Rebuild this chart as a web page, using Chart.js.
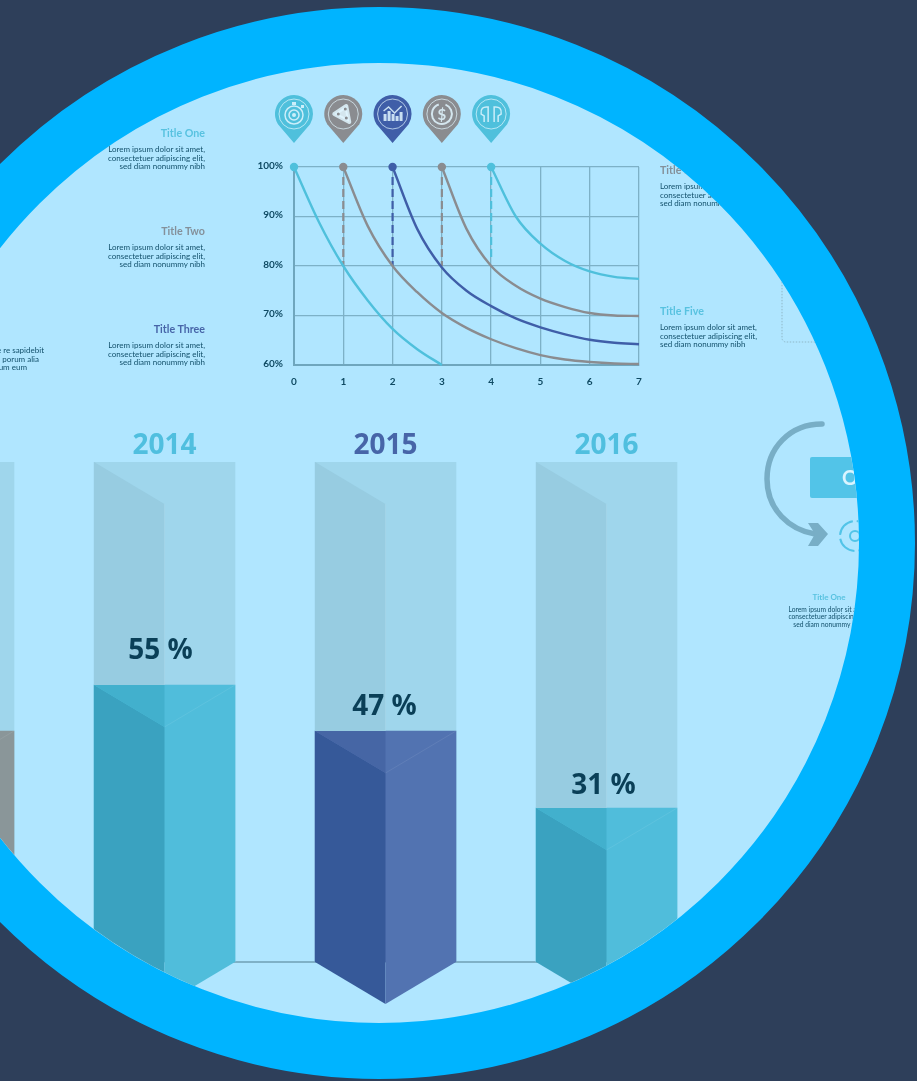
<!DOCTYPE html>
<html>
<head>
<meta charset="utf-8">
<script src="https://cdn.jsdelivr.net/npm/chart.js@4"></script>
<style>
html, body { margin: 0; width: 917px; height: 1081px; overflow: hidden; background: #2e3f5a; }
#disc { position: absolute; left: -157px; top: 7px; width: 1072px; height: 1072px; box-sizing: border-box;
  border: 56px solid #00b4ff; border-radius: 50%; overflow: hidden; background: #b0e6ff; }
#stage { position: absolute; left: 101px; top: -63px; width: 917px; height: 1081px; }
#stage canvas, #stage svg { position: absolute; }
#lineChart { left: 240px; top: 90px; filter: blur(.35px); }
#barChart { left: -167px; top: 400px; }
#stage svg { left: 0; top: 0; filter: blur(.4px); }
.note { position: absolute; width: 200px; font: 8px/8.7px Lato, sans-serif; color: #12506b; filter: blur(.25px); }
.note b { display: block; font: bold 10.7px/12px Lato, sans-serif; margin-bottom: 6px; }
.r { text-align: right; }
.c { text-align: center; }
.cyan { color: #58c2e0; }
.grey { color: #84909a; }
.blue { color: #4765a8; }
</style>
</head>
<body>
<div id="disc"><div id="stage">
  <svg width="917" height="1081">
    <rect x="782" y="270" width="130" height="72" rx="4" fill="none" stroke="#8fb8c8" stroke-width="1" stroke-dasharray="1.5 1.5"/>
    <path d="M822 424 C 790 424 767 448 767 479 C 767 510 790 530 815 534" fill="none" stroke="#78aec6" stroke-width="5.5" stroke-linecap="round"/>
    <path d="M808 523 L818 523 L828 534 L818 546 L808 546 L815 534 Z" fill="#78aec6"/>
    <rect x="810" y="457" width="70" height="41" rx="2" fill="#52c4e8"/>
    <circle cx="855" cy="536" r="15" fill="none" stroke="#52c4e8" stroke-width="2" stroke-dasharray="20 4"/>
    <circle cx="855" cy="536" r="5" fill="none" stroke="#52c4e8" stroke-width="2"/>
    <text x="842" y="485" font-family="Lato, sans-serif" font-weight="bold" font-size="20" fill="#d9f4ff">O</text>
  </svg>
  <canvas id="lineChart" width="420" height="300"></canvas>
  <canvas id="barChart" width="884" height="620"></canvas>
  <div class="note r" style="left:5px;top:127px"><b class="cyan">Title One</b>Lorem ipsum dolor sit amet,<br>consectetuer adipiscing elit,<br>sed diam nonummy nibh</div>
  <div class="note r" style="left:5px;top:225px"><b class="grey">Title Two</b>Lorem ipsum dolor sit amet,<br>consectetuer adipiscing elit,<br>sed diam nonummy nibh</div>
  <div class="note r" style="left:5px;top:323px"><b class="blue">Title Three</b>Lorem ipsum dolor sit amet,<br>consectetuer adipiscing elit,<br>sed diam nonummy nibh</div>
  <div class="note" style="left:660px;top:164px"><b class="grey">Title Four</b>Lorem ipsum dolor sit amet,<br>consectetuer adipiscing elit,<br>sed diam nonummy nibh</div>
  <div class="note" style="left:660px;top:305px"><b class="cyan">Title Five</b>Lorem ipsum dolor sit amet,<br>consectetuer adipiscing elit,<br>sed diam nonummy nibh</div>
  <div class="note r" style="left:-156px;top:346px">Nam libero tempore re sapidebit<br><span style="margin-right:5px">quibus aut porum alia</span><br><span style="margin-right:17px">harum eum</span></div>
  <div class="note c" style="left:729px;top:591px;line-height:7.3px"><b class="cyan" style="font-size:8px;margin-bottom:3px">Title One</b><span style="font-size:6.7px">Lorem ipsum dolor sit amet,<br>consectetuer adipiscing elit,<br>sed diam nonummy nibh</span></div>
</div></div>

<script>
const steps = [0, 0.5, 1, 1.5, 2, 2.5, 3, 3.5, 4, 4.5, 5, 5.5, 6, 6.5, 7];
const curveOne = [100, 89, 80, 73, 67.3, 63.2, 60, null, null, null, null, null, null, null, null];
const curveTwo = [null, null, 100, 88, 80, 74.7, 70.5, 67.5, 65.2, 63.4, 62, 61.1, 60.6, 60.3, 60.2];
const curveThree = [null, null, null, null, 100, 87.5, 79.7, 75, 71.9, 69.4, 67.6, 66.2, 65.1, 64.5, 64.2];
const curveFour = [null, null, null, null, null, null, 100, 87.5, 80, 76, 73.4, 71.7, 70.5, 70, 69.9];
const curveFive = [null, null, null, null, null, null, null, null, 100, 90, 84.5, 81, 78.9, 77.8, 77.4];
const dropSteps = [1, 2, 3, 4];
const dropLevels = [80, 80, 80, 81];

const years = ['2013', '2014', '2015', '2016'];
const fillLevels = [46.2, 55.4, 46.2, 30.8];
const trackLevels = [100, 100, 100, 100];
const percentLabels = ['', '55 %', '47 %', '31 %'];

const CYAN = '#4fc0dc', GREY = '#8a8c90', NAVY = '#3f5ea8';

const pinIcon = (ctx, i, color) => {
    ctx.strokeStyle = ctx.fillStyle = 'rgba(225,246,255,.85)';
    ctx.lineWidth = 1.5;
    if (i === 0) {
        ctx.fillRect(-2, -12, 4, 3);
        ctx.fillRect(7, -9, 3, 3);
        [9, 5].forEach(r => { ctx.beginPath(); ctx.arc(0, 1, r, 0, 7); ctx.stroke(); });
        ctx.beginPath(); ctx.arc(0, 1, 2, 0, 7); ctx.fill();
    } else if (i === 1) {
        ctx.lineJoin = 'round';
        ctx.lineWidth = 4;
        ctx.beginPath(); ctx.moveTo(-9, 0); ctx.lineTo(3, -8); ctx.lineTo(6, 8); ctx.closePath();
        ctx.fill(); ctx.stroke();
        ctx.fillStyle = color;
        [[-5, 0], [2, -5], [3, 4]].forEach(p => { ctx.beginPath(); ctx.arc(p[0], p[1], 1.5, 0, 7); ctx.fill(); });
    } else if (i === 2) {
        [[-9, 7], [-5, 10], [-1, 7], [3, 5], [7, 9]].forEach(b => ctx.fillRect(b[0], 7 - b[1], 3, b[1]));
        ctx.beginPath(); ctx.moveTo(-9, -3); ctx.lineTo(-4, -7); ctx.lineTo(2, -1); ctx.lineTo(9, -8); ctx.stroke();
    } else if (i === 3) {
        ctx.lineWidth = 2;
        ctx.beginPath(); ctx.arc(0, 0, 10, -1.2, 4.4); ctx.stroke();
        ctx.font = 'bold 15px Lato'; ctx.textAlign = 'center'; ctx.textBaseline = 'middle';
        ctx.fillText('$', 0, 1);
    } else {
        [-1, 1].forEach(s => {
            ctx.beginPath();
            ctx.moveTo(s * 3, 8);
            ctx.lineTo(s * 3, -7);
            ctx.quadraticCurveTo(s * 11, -8, s * 10, 0);
            ctx.lineTo(s * 7, 2);
            ctx.lineTo(s * 7, 8);
            ctx.stroke();
        });
    }
};

const pinsPlugin = {
    id: 'pins',
    afterDraw(chart) {
        const { ctx, scales: { x } } = chart;
        [CYAN, GREY, NAVY, GREY, CYAN].forEach((color, i) => {
            ctx.save();
            ctx.translate(x.getPixelForValue(i), 24);
            ctx.fillStyle = color;
            ctx.beginPath();
            ctx.arc(0, 0, 19, Math.PI * 0.82, Math.PI * 0.18);
            ctx.lineTo(0, 29);
            ctx.closePath();
            ctx.fill();
            ctx.strokeStyle = 'rgba(225,246,255,.7)';
            ctx.lineWidth = 1;
            ctx.beginPath();
            ctx.arc(0, 0, 15, 0, 7);
            ctx.stroke();
            pinIcon(ctx, i, color);
            ctx.restore();
        });
    }
};

const toPoints = ys => steps.map((x, i) => ({ x, y: ys[i] }));
const curve = (ys, color) => ({
    data: toPoints(ys),
    borderColor: color,
    backgroundColor: color,
    borderWidth: 2.4,
    cubicInterpolationMode: 'monotone',
    pointRadius: ctx => (ctx.parsed.y === 100 ? 3 : 0),
    clip: false
});
const dropColors = [GREY, NAVY, GREY, CYAN];
const drops = dropSteps.map((x, i) => ({
    data: [{ x, y: 98 }, { x, y: dropLevels[i] }],
    borderColor: dropColors[i],
    borderWidth: 2.2,
    borderDash: [8, 4],
    pointRadius: 0
}));

new Chart(document.getElementById('lineChart'), {
    type: 'line',
    data: { datasets: [
        curve(curveOne, CYAN), curve(curveTwo, GREY), curve(curveThree, NAVY), curve(curveFour, GREY), curve(curveFive, CYAN),
        ...drops
    ] },
    plugins: [pinsPlugin],
    options: {
        responsive: false,
        animation: false,
        layout: { padding: { top: 77, right: 21 } },
        plugins: { legend: false, tooltip: false },
        scales: {
            x: {
                type: 'linear', min: 0, max: 7,
                grid: { color: '#7db1c7', lineWidth: 1.3, drawTicks: false },
                border: { color: '#6fa6bd', width: 2 },
                ticks: { stepSize: 1, padding: 11, color: '#0f4a63', font: { family: 'Lato', weight: 'bold', size: 10 } },
                afterFit: s => { s.height = 25; }
            },
            y: {
                min: 60, max: 100,
                grid: { color: '#7db1c7', lineWidth: 1.3, drawTicks: false },
                border: { color: '#6fa6bd', width: 2 },
                ticks: { stepSize: 10, padding: 11, labelOffset: -1.5, color: '#0f4a63', font: { family: 'Lato', weight: 'bold', size: 10 },
                    callback: v => v + '%' },
                afterFit: s => { s.width = 54; }
            }
        }
    }
});

const barFaces = [
    { right: '#8a9699', left: '#7c888b', topLeft: '#84908f', year: '#84909a' },
    { right: '#50bddb', left: '#3aa2c0', topLeft: '#42b0cd', year: '#50bfdf' },
    { right: '#5273b1', left: '#365999', topLeft: '#4666a5', year: '#4765a8' },
    { right: '#50bddb', left: '#3aa2c0', topLeft: '#42b0cd', year: '#50bfdf' }
];
const labelNudge = [[0, 0], [-4, -34], [-1, -24], [-3, -22]];

const poly = (ctx, color, pts) => {
    ctx.fillStyle = color;
    ctx.beginPath();
    pts.forEach(p => ctx.lineTo(p[0], p[1]));
    ctx.closePath();
    ctx.fill();
};

const prismPlugin = {
    id: 'prism',
    beforeDatasetsDraw(chart) {
        const { ctx, scales: { y } } = chart;
        const bars = chart.getDatasetMeta(0).data;
        const base = y.getPixelForValue(0);
        ctx.strokeStyle = '#6f9fb5';
        ctx.lineWidth = 1.5;
        ctx.beginPath();
        ctx.moveTo(bars[1].x, base);
        ctx.lineTo(bars[3].x, base);
        ctx.stroke();
    },
    afterDatasetsDraw(chart) {
        const { ctx } = chart;
        const fills = chart.getDatasetMeta(0).data;
        const tracks = chart.getDatasetMeta(1).data;
        fills.forEach((bar, i) => {
            const { x, y, base, width } = bar;
            const l = x - width / 2, r = x + width / 2, rise = 42;
            const top = tracks[i].y;
            const face = barFaces[i];
            poly(ctx, '#97cce1', [[l, top], [x, top + rise], [x, y], [l, y]]);
            poly(ctx, face.left, [[l, y], [x, y + rise], [x, base + rise], [l, base]]);
            poly(ctx, face.topLeft, [[l, y], [x, y], [x, y + rise]]);
            poly(ctx, face.right, [[x, base], [r, base], [x, base + rise]]);
            ctx.strokeStyle = 'rgba(255,255,255,.08)';
            ctx.lineWidth = 1;
            ctx.beginPath();
            ctx.moveTo(r, y);
            ctx.lineTo(x, y + rise);
            ctx.moveTo(x, top + rise);
            ctx.lineTo(x, y);
            ctx.stroke();
            ctx.fillStyle = '#0a3f57';
            ctx.font = 'bold 28px "Open Sans"';
            ctx.textAlign = 'center';
            ctx.textBaseline = 'middle';
            ctx.fillText(percentLabels[i], x + labelNudge[i][0], y + labelNudge[i][1]);
        });
    }
};

new Chart(document.getElementById('barChart'), {
    type: 'bar',
    data: {
        labels: years,
        datasets: [
            { data: fillLevels, grouped: false, barThickness: 141, backgroundColor: barFaces.map(f => f.right) },
            { data: trackLevels, grouped: false, barThickness: 141, backgroundColor: '#9fd6ec' }
        ]
    },
    plugins: [prismPlugin],
    options: {
        responsive: false,
        animation: false,
        layout: { padding: { bottom: 58 } },
        plugins: { legend: false, tooltip: false },
        scales: {
            x: {
                position: 'top',
                grid: { display: false, drawTicks: false },
                border: { display: false },
                ticks: { padding: -1, color: c => barFaces[c.index].year, font: { family: 'Open Sans', weight: 'bold', size: 28 } },
                afterFit: s => { s.height = 62; }
            },
            y: { display: false, min: 0, max: 100 }
        }
    }
});
</script>
</body>
</html>
